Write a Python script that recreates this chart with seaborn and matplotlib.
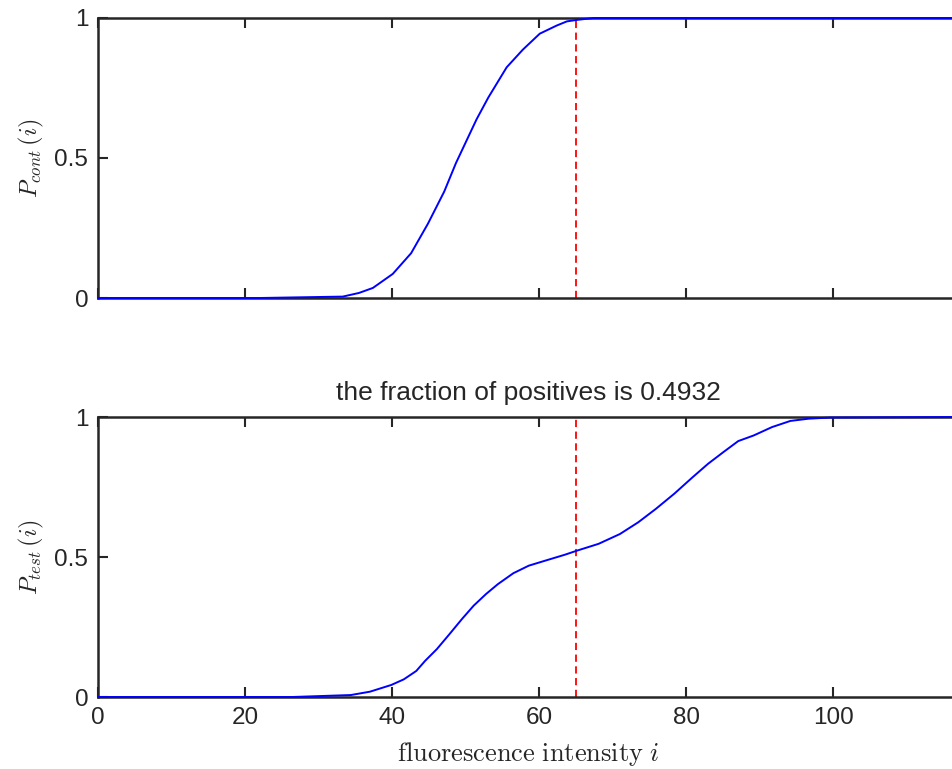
import matplotlib
matplotlib.use("Agg")
import matplotlib.pyplot as plt
import seaborn as sns
import pandas as pd

# Empirical cumulative distributions of fluorescence intensity
cont_i = [0, 22, 33.3, 35.5, 37.4, 40.1, 42.6, 44.9, 47.1, 48.7, 50.1, 51.5,
          53.1, 55.6, 57.8, 60.1, 62.4, 63.8, 65.1, 67.4, 117]
cont_p = [0, 0, 0.005, 0.018, 0.036, 0.086, 0.160, 0.266, 0.380, 0.482, 0.560,
          0.638, 0.716, 0.824, 0.887, 0.944, 0.973, 0.988, 0.993, 1.0, 1.0]

test_i = [0, 26.4, 34.4, 37.0, 39.9, 41.6, 43.3, 44.5, 46.1, 47.8, 49.5, 51.1,
          52.8, 54.4, 56.5, 58.6, 61.1, 63.5, 65.2, 68.1, 71.0, 73.5, 75.9,
          78.4, 80.9, 83.0, 85.1, 87.1, 89.2, 91.7, 94.2, 96.7, 99.6, 117]
test_p = [0, 0, 0.007, 0.019, 0.043, 0.063, 0.093, 0.129, 0.171, 0.224, 0.278,
          0.326, 0.368, 0.403, 0.442, 0.469, 0.489, 0.508, 0.523, 0.547, 0.582,
          0.624, 0.672, 0.726, 0.785, 0.833, 0.875, 0.914, 0.934, 0.964, 0.986,
          0.994, 0.998, 1.0]

threshold = 65
fraction_positive = 0.4932

x_ticks = [0, 20, 40, 60, 80, 100]
y_ticks = [0, 0.5, 1]
y_ticklabels = ["0", "0.5", "1"]
x_max = 117

sns.set_theme(style="white")
plt.rcParams["font.family"] = ["Liberation Sans", "DejaVu Sans"]
plt.rcParams["mathtext.fontset"] = "cm"

fig = plt.figure(figsize=(9.53, 7.69), dpi=100)
W, H = 953, 769
left_px, width_px, height_px = 98, 860, 280
ax_top = fig.add_axes([left_px / W, 1 - 298 / H, width_px / W, height_px / H])
ax_bot = fig.add_axes([left_px / W, 1 - 697 / H, width_px / W, height_px / H])

df_cont = pd.DataFrame({"i": cont_i, "p": cont_p})
df_test = pd.DataFrame({"i": test_i, "p": test_p})

for ax, df, ylabel in [(ax_top, df_cont, r"$P_{cont}\,(i)$"),
                       (ax_bot, df_test, r"$P_{test}\,(i)$")]:
    sns.lineplot(data=df, x="i", y="p", ax=ax, color="#0000ff", lw=1.4,
                 estimator=None, sort=False, zorder=3, clip_on=False)
    ax.plot([threshold, threshold], [0, 1], color="#ff0000", lw=1.3,
            linestyle=(0, (4, 2.5)), zorder=2)
    ax.set_xlim(0, x_max)
    ax.set_ylim(0, 1)
    ax.set_xticks(x_ticks)
    ax.set_yticks(y_ticks)
    ax.set_yticklabels(y_ticklabels)
    ax.tick_params(axis="both", direction="in", length=7, width=1.5,
                   color="#262626", labelsize=17.5, labelcolor="#262626",
                   top=True, right=False, bottom=True, left=True, pad=7)
    for s in ax.spines.values():
        s.set_color("#262626")
        s.set_linewidth(1.8)
    ax.set_xlabel("")
    ax.set_ylabel(ylabel, fontsize=17.5, color="#262626")
    ax.yaxis.set_label_coords(-0.06, 0.5)

ax_top.set_xticklabels([])
ax_bot.set_title(f"the fraction of positives is {fraction_positive}",
                 fontsize=19, color="#262626", pad=12)
ax_bot.set_xlabel(r"$\mathrm{fluorescence\ intensity}\ i$", fontsize=19,
                  color="#262626", labelpad=8)

fig.savefig("out.png", dpi=100)
